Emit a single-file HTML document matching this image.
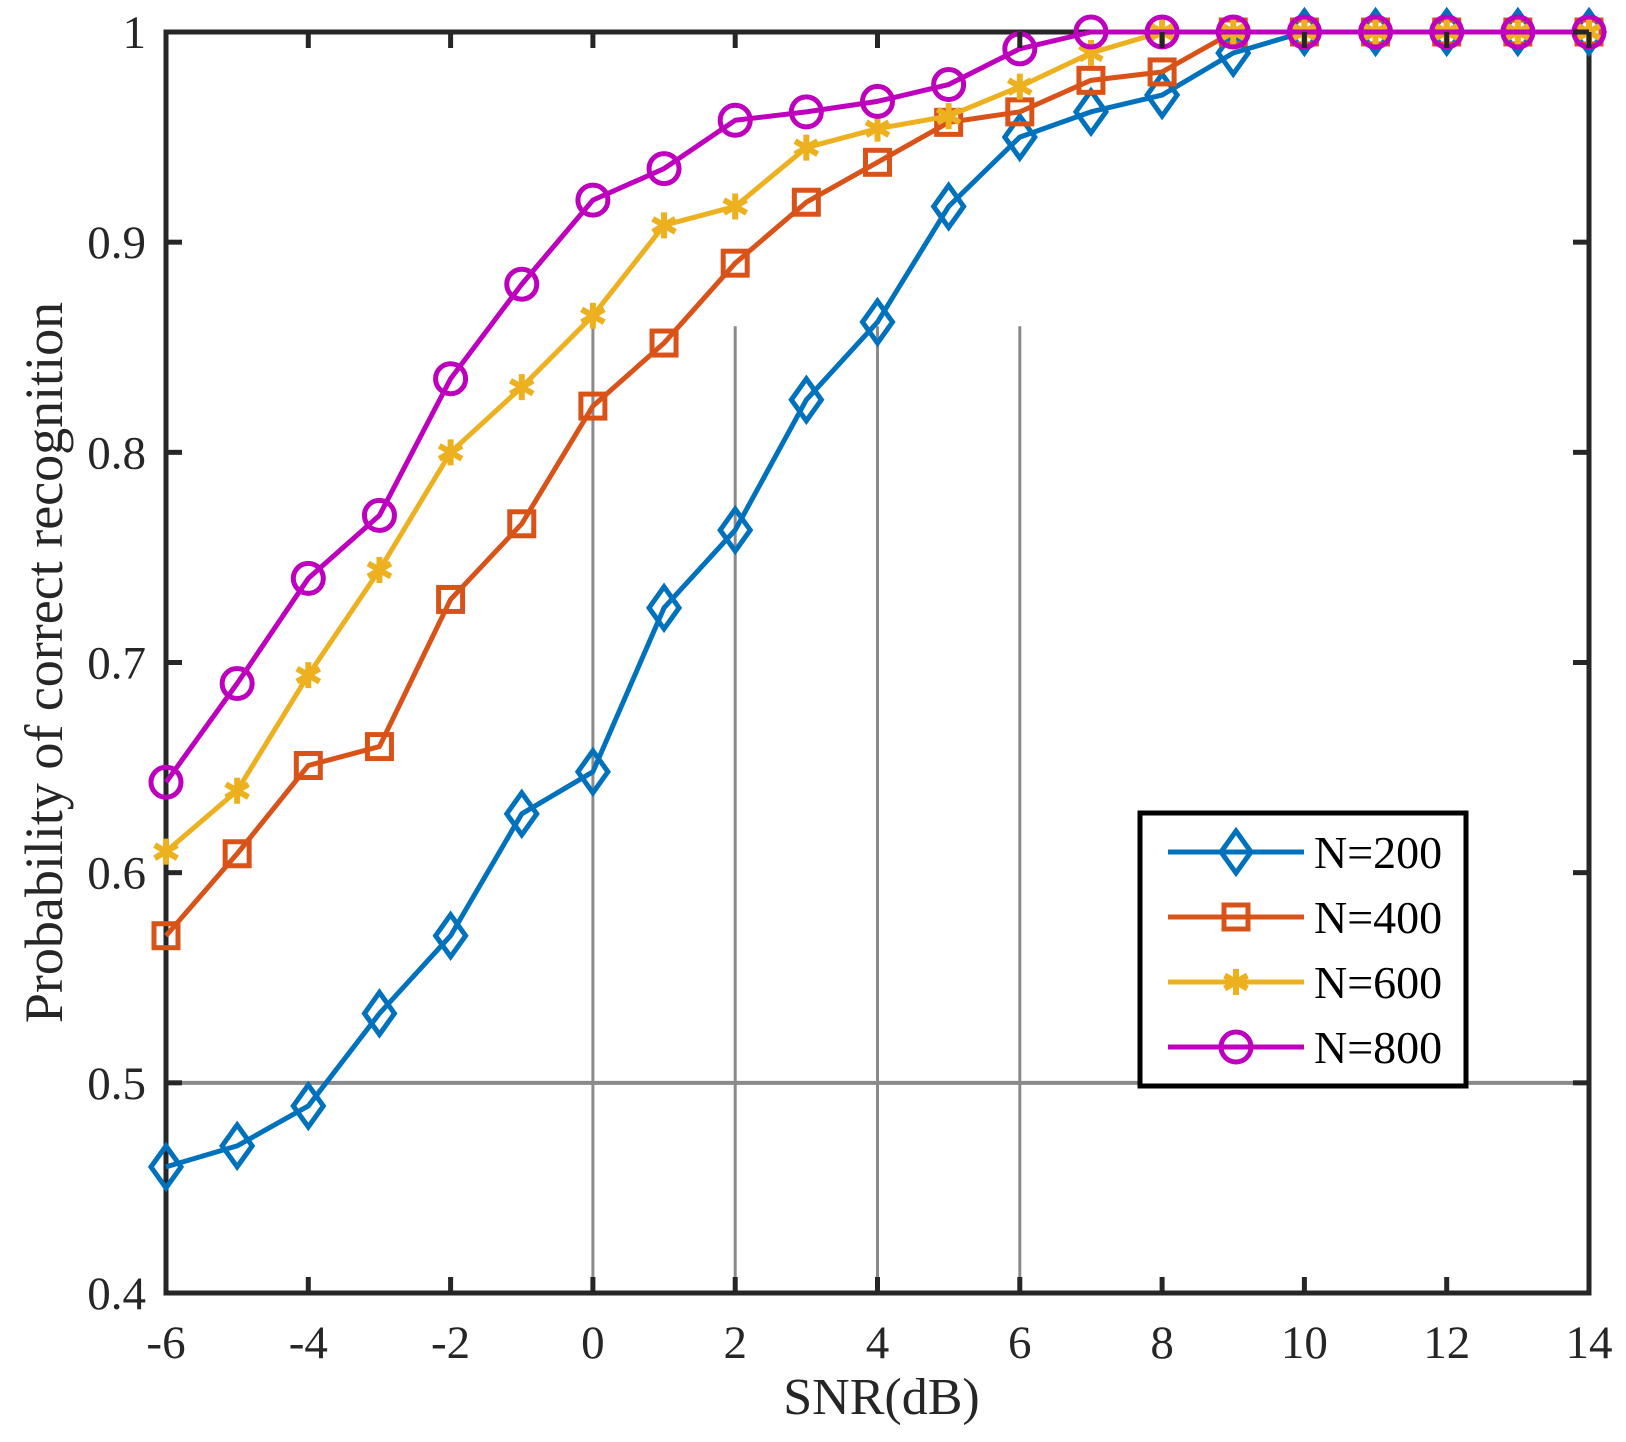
<!DOCTYPE html>
<html><head><meta charset="utf-8"><style>
html,body{margin:0;padding:0;background:#fff;}
svg text{font-family:"Liberation Serif",serif;fill:#262626;}
</style></head><body>
<svg id="chart" width="1626" height="1437" viewBox="0 0 1626 1437" xmlns="http://www.w3.org/2000/svg"></svg>
<script>
const snr = [-6,-5,-4,-3,-2,-1,0,1,2,3,4,5,6,7,8,9,10,11,12,13,14];
const n200 = [0.46,0.47,0.489,0.533,0.57,0.628,0.648,0.726,0.763,0.825,0.862,0.917,0.95,0.962,0.97,0.99,1,1,1,1,1];
const n400 = [0.57,0.609,0.651,0.66,0.73,0.766,0.822,0.852,0.89,0.919,0.938,0.957,0.962,0.977,0.981,1,1,1,1,1,1];
const n600 = [0.61,0.639,0.694,0.744,0.8,0.831,0.865,0.908,0.917,0.945,0.954,0.96,0.974,0.99,1,1,1,1,1,1,1];
const n800 = [0.643,0.69,0.74,0.77,0.835,0.88,0.92,0.935,0.958,0.962,0.967,0.975,0.992,1,1,1,1,1,1,1,1];
const seriesNames = ["N=200","N=400","N=600","N=800"];
const xTicks = [-6,-4,-2,0,2,4,6,8,10,12,14];
const xTickLabels = ["-6","-4","-2","0","2","4","6","8","10","12","14"];
const yTicks = [0.4,0.5,0.6,0.7,0.8,0.9,1];
const yTickLabels = ["0.4","0.5","0.6","0.7","0.8","0.9","1"];
const refY = [0.5];
const refX = [0,2,4,6];
const refXTop = 0.86;

const L=166,R=1589,T=32,B=1293;
const xs = v => L + (v+6)/20*(R-L);
const ys = v => B - (v-0.4)/0.6*(B-T);
const svg = document.getElementById('chart');
const NS='http://www.w3.org/2000/svg';
function mk(tag, attrs, parent){const e=document.createElementNS(NS,tag);for(const k in attrs)e.setAttribute(k,attrs[k]);(parent||svg).appendChild(e);return e;}

refY.forEach(v=>{const e=mk('line',{x1:L,x2:R,y1:ys(v),y2:ys(v),stroke:'#8a8a8a','stroke-width':4});

});
refX.forEach(v=>{const e=mk('line',{x1:xs(v),x2:xs(v),y1:B,y2:ys(refXTop),stroke:'#8a8a8a','stroke-width':3});

});

const ax=mk('rect',{x:L,y:T,width:R-L,height:B-T,fill:'none',stroke:'#262626','stroke-width':5});



const colors=['#0072BD','#D95319','#EDB120','#BE00BE'];
const data=[n200,n400,n600,n800];
const markers=['diamond','square','star','circle'];
function marker(type,cx,cy,color,g){
  if(type==='diamond') mk('polygon',{points:`${cx},${cy-21} ${cx+15},${cy} ${cx},${cy+21} ${cx-15},${cy}`,fill:'none',stroke:color,'stroke-width':5},g);
  else if(type==='square') mk('rect',{x:cx-12,y:cy-12,width:24,height:24,fill:'none',stroke:color,'stroke-width':5},g);
  else if(type==='circle') mk('circle',{cx:cx,cy:cy,r:15,fill:'none',stroke:color,'stroke-width':5},g);
  else { const r=13;
    mk('path',{d:`M${cx},${cy-r}L${cx},${cy+r}M${cx-r*0.87},${cy-r/2}L${cx+r*0.87},${cy+r/2}M${cx-r*0.87},${cy+r/2}L${cx+r*0.87},${cy-r/2}`,stroke:color,'stroke-width':6,fill:'none'},g);}
}
data.forEach((arr,i)=>{
  const g=mk('g',{});
  
  
  const pts=arr.map((v,j)=>xs(snr[j])+','+ys(v)).join(' ');
  mk('polyline',{points:pts,fill:'none',stroke:colors[i],'stroke-width':5,'stroke-linejoin':'round'},g);
  arr.forEach((v,j)=>marker(markers[i],xs(snr[j]),ys(v),colors[i],g));
});

xTicks.forEach((v,i)=>{
  mk('line',{x1:xs(v),x2:xs(v),y1:B,y2:B-16,stroke:'#262626','stroke-width':5});
  mk('line',{x1:xs(v),x2:xs(v),y1:T,y2:T+16,stroke:'#262626','stroke-width':5});
  const t=mk('text',{x:xs(v),y:1358,'font-size':47,'text-anchor':'middle'});t.textContent=xTickLabels[i];
  
  
});
yTicks.forEach((v,i)=>{
  mk('line',{x1:L,x2:L+16,y1:ys(v),y2:ys(v),stroke:'#262626','stroke-width':5});
  mk('line',{x1:R,x2:R-16,y1:ys(v),y2:ys(v),stroke:'#262626','stroke-width':5});
  const t=mk('text',{x:146,y:ys(v)+16,'font-size':47,'text-anchor':'end'});t.textContent=yTickLabels[i];
  
  
});
const xl=mk('text',{x:(L+R)/2+4,y:1414,'font-size':52,'text-anchor':'middle'});xl.textContent='SNR(dB)';


const yl=mk('text',{x:0,y:0,'font-size':54,'text-anchor':'middle',transform:`translate(62,${(T+B)/2}) rotate(-90)`});yl.textContent='Probability of correct recognition';



const lg=mk('g',{});


mk('rect',{x:1140,y:813,width:326,height:273,fill:'#fff',stroke:'#000','stroke-width':5},lg);
seriesNames.forEach((n,i)=>{
  const y=852+i*65;
  const e=mk('g',{},lg);
  
  
  mk('line',{x1:1168,x2:1304,y1:y,y2:y,stroke:colors[i],'stroke-width':5},e);
  marker(markers[i],1236,y,colors[i],e);
  const t=mk('text',{x:1314,y:y+16,'font-size':46},e);t.textContent=n;t.style.fill='#000';
});
</script>
</body></html>
